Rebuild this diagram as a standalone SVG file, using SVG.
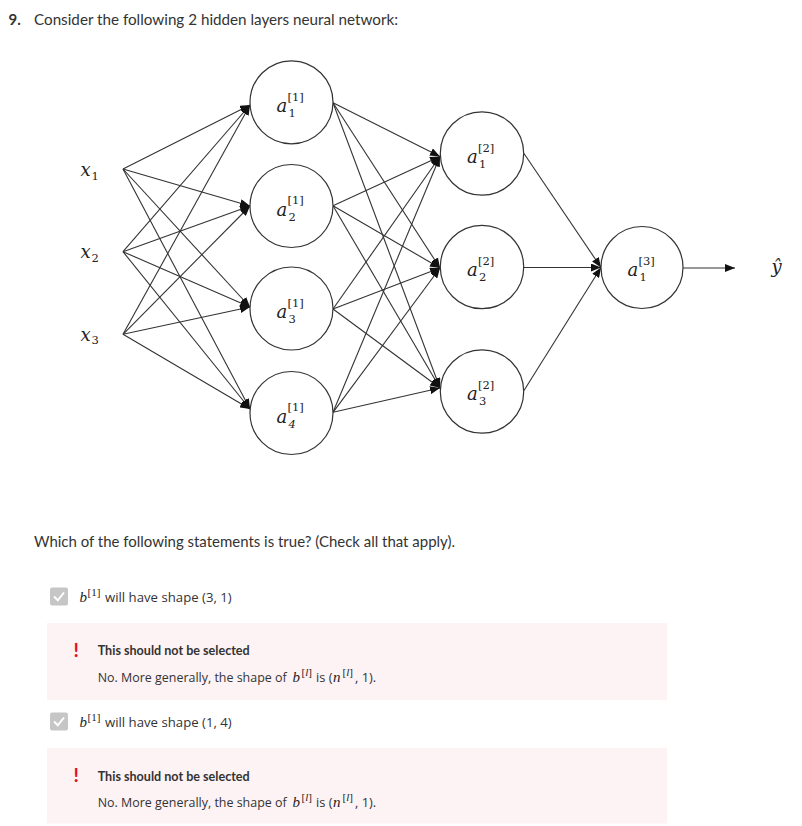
<svg xmlns="http://www.w3.org/2000/svg" width="802" height="826" viewBox="0 0 802 826">
<style>
.ui{font-family:Lato,"Open Sans","Liberation Sans",sans-serif;fill:#333}
.op{font-family:"Open Sans","Noto Sans","Liberation Sans",sans-serif;fill:#333;font-size:13.2px}
.op2{font-family:"Open Sans","Noto Sans","Liberation Sans",sans-serif;fill:#333;font-size:12.8px}
.m{font-family:"Liberation Serif","DejaVu Serif",serif;fill:#222}
.mi{font-style:italic}
.node circle{fill:#fff;stroke:#333;stroke-width:1.2}
.ml{font-family:"DejaVu Serif","Liberation Serif",serif;fill:#222;font-size:18px;font-style:italic}
.ms{font-family:"DejaVu Serif","Liberation Serif",serif;fill:#222;font-size:11.5px}
.msi{font-family:"DejaVu Serif","Liberation Serif",serif;fill:#222;font-size:11.5px;font-style:italic}
#connectors line{stroke:#333;stroke-width:1.1;marker-end:url(#ah)}
</style>
<defs>
<marker id="ah" markerWidth="10" markerHeight="8" refX="10" refY="4" orient="auto" markerUnits="userSpaceOnUse"><path d="M0,0 L10,4 L0,8 Z" fill="#111"/></marker>
</defs>
<rect width="802" height="826" fill="#fff"/>
<text x="8.5" y="25" class="ui" font-size="15" font-weight="bold" fill="#1f1f1f">9.</text>
<text x="34" y="25" class="ui" font-size="16" textLength="364" lengthAdjust="spacingAndGlyphs">Consider the following 2 hidden layers neural network:</text>

<g id="connectors">
<line x1="123" y1="169" x2="250" y2="105"/>
<line x1="123" y1="169" x2="250" y2="206"/>
<line x1="123" y1="169" x2="250" y2="307"/>
<line x1="123" y1="169" x2="250" y2="409"/>
<line x1="123" y1="251.7" x2="250" y2="105"/>
<line x1="123" y1="251.7" x2="250" y2="206"/>
<line x1="123" y1="251.7" x2="250" y2="307"/>
<line x1="123" y1="251.7" x2="250" y2="409"/>
<line x1="123" y1="334.3" x2="250" y2="105"/>
<line x1="123" y1="334.3" x2="250" y2="206"/>
<line x1="123" y1="334.3" x2="250" y2="307"/>
<line x1="123" y1="334.3" x2="250" y2="409"/>
<line x1="333" y1="102.7" x2="440" y2="156.5"/>
<line x1="333" y1="102.7" x2="440" y2="268"/>
<line x1="333" y1="102.7" x2="440" y2="388"/>
<line x1="333" y1="205.7" x2="440" y2="156.5"/>
<line x1="333" y1="205.7" x2="440" y2="268"/>
<line x1="333" y1="205.7" x2="440" y2="388"/>
<line x1="333" y1="309" x2="440" y2="156.5"/>
<line x1="333" y1="309" x2="440" y2="268"/>
<line x1="333" y1="309" x2="440" y2="388"/>
<line x1="333" y1="412.3" x2="440" y2="156.5"/>
<line x1="333" y1="412.3" x2="440" y2="268"/>
<line x1="333" y1="412.3" x2="440" y2="388"/>
<line x1="524" y1="153.5" x2="601" y2="267.5"/>
<line x1="524" y1="267.5" x2="601" y2="267.5"/>
<line x1="524" y1="390.5" x2="601" y2="267.5"/>
<line x1="683" y1="268" x2="735" y2="268"/>
</g>

<g id="x1"><text x="80.5" y="176" class="ml">x<tspan x="91.5" y="179.5" class="ms" font-style="normal">1</tspan></text></g>
<g id="x2"><text x="80.5" y="258" class="ml">x<tspan x="91.5" y="261.5" class="ms" font-style="normal">2</tspan></text></g>
<g id="x3"><text x="80.5" y="340.5" class="ml">x<tspan x="91.5" y="344" class="ms" font-style="normal">3</tspan></text></g>

<g id="a1_1" class="node"><circle cx="291.5" cy="102.3" r="41.5"/><text x="276.5" y="112" class="ml">a</text><text x="287.5" y="100.5" class="ms">[1]</text><text x="288.5" y="117" class="ms">1</text></g>
<g id="a2_1" class="node"><circle cx="291.5" cy="206" r="41.5"/><text x="276.5" y="215.5" class="ml">a</text><text x="287.5" y="204" class="ms">[1]</text><text x="288.5" y="220.5" class="ms">2</text></g>
<g id="a3_1" class="node"><circle cx="291.5" cy="308.5" r="41.5"/><text x="276.5" y="318" class="ml">a</text><text x="287.5" y="306.5" class="ms">[1]</text><text x="288.5" y="323" class="ms">3</text></g>
<g id="a4_1" class="node"><circle cx="291.5" cy="413" r="41.5"/><text x="276.5" y="422.5" class="ml">a</text><text x="287.5" y="411" class="ms">[1]</text><text x="288.5" y="427.5" class="msi">4</text></g>

<g id="a1_2" class="node"><circle cx="482" cy="153.5" r="41.7"/><text x="467" y="163" class="ml">a</text><text x="478" y="152" class="ms">[2]</text><text x="479" y="168" class="ms">1</text></g>
<g id="a2_2" class="node"><circle cx="482" cy="267" r="41.7"/><text x="467" y="275.5" class="ml">a</text><text x="478" y="264.5" class="ms">[2]</text><text x="479" y="281" class="ms">2</text></g>
<g id="a3_2" class="node"><circle cx="482" cy="391.5" r="41.7"/><text x="467" y="399.5" class="ml">a</text><text x="478" y="388.5" class="ms">[2]</text><text x="479" y="405" class="ms">3</text></g>

<g id="a1_3" class="node"><circle cx="642" cy="267.5" r="41"/><text x="627.5" y="275.5" class="ml">a</text><text x="638.5" y="264.5" class="ms">[3]</text><text x="639.5" y="281" class="ms">1</text></g>

<g id="yhat"><text x="771.5" y="272.5" class="ml">ŷ</text></g>

<text x="34" y="547" class="ui" font-size="16" fill="#444" textLength="421" lengthAdjust="spacingAndGlyphs">Which of the following statements is true? (Check all that apply).</text>

<g id="opt1">
<rect x="50" y="587.5" width="18" height="18" rx="2" fill="#c6c6c6"/>
<path d="M54,596.5 L57.8,600.3 L64,592.5" fill="none" stroke="#fff" stroke-width="2"/>
<text y="602" class="op"><tspan x="79.5" class="m mi" font-size="15">b</tspan><tspan x="87.5" y="596" class="m" font-size="11">[1]</tspan><tspan x="105" y="602" textLength="126.7" lengthAdjust="spacingAndGlyphs">will have shape (3, 1)</tspan></text>
<rect x="47" y="623" width="620" height="77" fill="#fdf2f4"/>
<text x="73.5" y="657" font-family="Lato,'Liberation Sans',sans-serif" font-weight="bold" font-size="19" fill="#e0101a">!</text>
<text x="97.7" y="655" class="ui" font-size="13" font-weight="bold" textLength="152" lengthAdjust="spacingAndGlyphs">This should not be selected</text>
<text y="681.5" class="op2"><tspan x="97.7" textLength="189" lengthAdjust="spacingAndGlyphs">No. More generally, the shape of</tspan><tspan x="292.5" class="m mi" font-size="15">b</tspan><tspan x="301.5" y="675.5" class="m" font-size="11">[<tspan font-style="italic">l</tspan>]</tspan><tspan x="316" y="681.5">is (</tspan><tspan x="333" class="m mi" font-size="15">n</tspan><tspan x="342.5" y="675.5" class="m" font-size="11">[<tspan font-style="italic">l</tspan>]</tspan><tspan x="355" y="681.5">, 1).</tspan></text>
</g>

<g id="opt2">
<rect x="50" y="712.5" width="18" height="18" rx="2" fill="#c6c6c6"/>
<path d="M54,721.5 L57.8,725.3 L64,717.5" fill="none" stroke="#fff" stroke-width="2"/>
<text y="727" class="op"><tspan x="79.5" class="m mi" font-size="15">b</tspan><tspan x="87.5" y="721" class="m" font-size="11">[1]</tspan><tspan x="105" y="727" textLength="126.7" lengthAdjust="spacingAndGlyphs">will have shape (1, 4)</tspan></text>
<rect x="47" y="748" width="620" height="75.5" fill="#fdf2f4"/>
<text x="73.5" y="782" font-family="Lato,'Liberation Sans',sans-serif" font-weight="bold" font-size="19" fill="#e0101a">!</text>
<text x="97.7" y="781" class="ui" font-size="13" font-weight="bold" textLength="152" lengthAdjust="spacingAndGlyphs">This should not be selected</text>
<text y="807" class="op2"><tspan x="97.7" textLength="189" lengthAdjust="spacingAndGlyphs">No. More generally, the shape of</tspan><tspan x="292.5" class="m mi" font-size="15">b</tspan><tspan x="301.5" y="801" class="m" font-size="11">[<tspan font-style="italic">l</tspan>]</tspan><tspan x="316" y="807">is (</tspan><tspan x="333" class="m mi" font-size="15">n</tspan><tspan x="342.5" y="801" class="m" font-size="11">[<tspan font-style="italic">l</tspan>]</tspan><tspan x="355" y="807">, 1).</tspan></text>
</g>
</svg>
